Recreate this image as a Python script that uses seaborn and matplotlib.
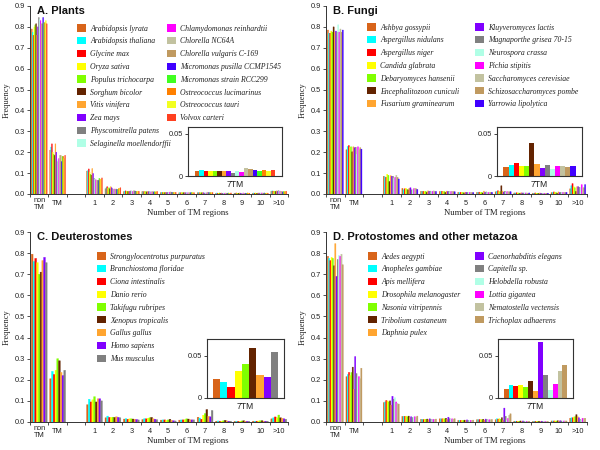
import numpy as np
import pandas as pd
import matplotlib
matplotlib.use("Agg")
import matplotlib.pyplot as plt
from matplotlib.patches import Patch
import seaborn as sns

sns.set_style("ticks")
plt.rcParams['font.family'] = ['Liberation Sans', 'DejaVu Sans']

# ---------------- data ----------------
CATEGORIES = ["non\nTM", "TM", " ", "1", "2", "3", "4", "5", "6", "7", "8", "9", "10", ">10"]
INSET_LABEL = "7TM"

PALETTE = ["#D8641A", "#00FFFF", "#FF0000", "#FFFF00", "#80FF00", "#632300",
           "#FFA530", "#8000FF", "#808080", "#B0FFE6", "#FF00FF", "#C2C2A0",
           "#C09A60", "#4000FF", "#40FF20", "#FF8000", "#F2FF20", "#FF4020"]

# A. Plants
PLANTS_SPECIES = ["Arabidopsis lyrata", "Arabidopsis thaliana", "Glycine max", "Oryza sativa",
                  "Populus trichocarpa", "Sorghum bicolor", "Vitis vinifera", "Zea mays",
                  "Physcomitrella patens", "Selaginella moellendorffii", "Chlamydomonas reinhardtii",
                  "Chlorella NC64A", "Chlorella vulgaris C-169", "Micromonas pusilla CCMP1545",
                  "Micromonas strain RCC299", "Ostreococcus lucimarinus", "Ostreococcus tauri",
                  "Volvox carteri"]
PLANTS_NONTM = [0.790, 0.775, 0.760, 0.800, 0.810, 0.815, 0.760, 0.800, 0.845, 0.835, 0.830, 0.815, 0.815, 0.845, 0.820, 0.820, 0.830, 0.815]
PLANTS_TM = [0.210, 0.225, 0.240, 0.200, 0.190, 0.185, 0.240, 0.200, 0.155, 0.165, 0.170, 0.185, 0.185, 0.155, 0.180, 0.180, 0.170, 0.185]
PLANTS_1 = [0.110, 0.112, 0.120, 0.105, 0.095, 0.090, 0.122, 0.098, 0.075, 0.072, 0.068, 0.066, 0.066, 0.065, 0.075, 0.070, 0.072, 0.077]
PLANTS_2 = [0.025, 0.030, 0.035, 0.028, 0.030, 0.025, 0.035, 0.030, 0.025, 0.022, 0.024, 0.022, 0.024, 0.022, 0.022, 0.026, 0.028, 0.030]
PLANTS_3 = [0.012, 0.014, 0.015, 0.012, 0.013, 0.012, 0.014, 0.013, 0.015, 0.014, 0.012, 0.016, 0.015, 0.014, 0.012, 0.013, 0.014, 0.013]
PLANTS_4 = [0.012, 0.011, 0.012, 0.011, 0.012, 0.010, 0.012, 0.011, 0.012, 0.013, 0.010, 0.012, 0.011, 0.010, 0.011, 0.010, 0.011, 0.012]
PLANTS_5 = [0.007, 0.008, 0.007, 0.008, 0.007, 0.007, 0.008, 0.007, 0.008, 0.008, 0.009, 0.010, 0.009, 0.008, 0.007, 0.008, 0.007, 0.008]
PLANTS_6 = [0.006, 0.007, 0.006, 0.007, 0.006, 0.006, 0.007, 0.006, 0.006, 0.007, 0.006, 0.007, 0.006, 0.006, 0.007, 0.006, 0.007, 0.006]
PLANTS_7 = [0.006, 0.007, 0.006, 0.006, 0.006, 0.006, 0.006, 0.006, 0.004, 0.006, 0.005, 0.009, 0.008, 0.007, 0.006, 0.007, 0.006, 0.007]
PLANTS_8 = [0.004, 0.005, 0.004, 0.004, 0.005, 0.004, 0.005, 0.004, 0.004, 0.005, 0.004, 0.005, 0.004, 0.004, 0.005, 0.004, 0.004, 0.005]
PLANTS_9 = [0.004, 0.004, 0.005, 0.004, 0.004, 0.004, 0.005, 0.004, 0.004, 0.004, 0.005, 0.004, 0.004, 0.004, 0.004, 0.005, 0.004, 0.004]
PLANTS_10 = [0.004, 0.005, 0.004, 0.005, 0.004, 0.004, 0.005, 0.004, 0.005, 0.004, 0.005, 0.005, 0.004, 0.005, 0.004, 0.004, 0.005, 0.004]
PLANTS_GT10 = [0.013, 0.015, 0.014, 0.012, 0.014, 0.012, 0.015, 0.013, 0.016, 0.015, 0.014, 0.013, 0.012, 0.010, 0.012, 0.011, 0.012, 0.013]

# B. Fungi
FUNGI_SPECIES = ["Ashbya gossypii", "Aspergillus nidulans", "Aspergillus niger", "Candida glabrata",
                 "Debaryomyces hansenii", "Encephalitozoon cuniculi", "Fusarium graminearum",
                 "Kluyveromyces lactis", "Magnaporthe grisea 70-15", "Neurospora crassa",
                 "Pichia stipitis", "Saccharomyces cerevisiae", "Schizosaccharomyces pombe",
                 "Yarrowia lipolytica"]
FUNGI_NONTM = [0.785, 0.770, 0.770, 0.780, 0.775, 0.800, 0.775, 0.780, 0.775, 0.810, 0.775, 0.790, 0.775, 0.785]
FUNGI_TM = [0.212, 0.228, 0.232, 0.224, 0.226, 0.202, 0.226, 0.222, 0.224, 0.190, 0.226, 0.212, 0.222, 0.215]
FUNGI_1 = [0.085, 0.082, 0.080, 0.095, 0.090, 0.060, 0.088, 0.085, 0.085, 0.075, 0.080, 0.090, 0.080, 0.072]
FUNGI_2 = [0.027, 0.020, 0.025, 0.028, 0.022, 0.020, 0.027, 0.030, 0.020, 0.020, 0.026, 0.028, 0.025, 0.022]
FUNGI_3 = [0.013, 0.012, 0.013, 0.012, 0.013, 0.008, 0.015, 0.013, 0.014, 0.012, 0.013, 0.015, 0.012, 0.012]
FUNGI_4 = [0.012, 0.012, 0.013, 0.012, 0.012, 0.008, 0.014, 0.012, 0.013, 0.011, 0.012, 0.013, 0.012, 0.011]
FUNGI_5 = [0.008, 0.007, 0.008, 0.007, 0.008, 0.005, 0.009, 0.008, 0.008, 0.007, 0.008, 0.008, 0.007, 0.007]
FUNGI_6 = [0.008, 0.008, 0.009, 0.007, 0.008, 0.005, 0.014, 0.008, 0.010, 0.008, 0.008, 0.009, 0.008, 0.008]
FUNGI_7 = [0.0105, 0.013, 0.0155, 0.0115, 0.0115, 0.0395, 0.014, 0.0093, 0.0135, 0.0078, 0.0115, 0.0115, 0.0105, 0.0115]
FUNGI_8 = [0.005, 0.005, 0.006, 0.005, 0.005, 0.003, 0.006, 0.005, 0.005, 0.005, 0.005, 0.005, 0.004, 0.005]
FUNGI_9 = [0.004, 0.004, 0.005, 0.004, 0.004, 0.002, 0.005, 0.004, 0.004, 0.004, 0.004, 0.004, 0.004, 0.004]
FUNGI_10 = [0.007, 0.008, 0.010, 0.008, 0.007, 0.004, 0.010, 0.007, 0.008, 0.007, 0.008, 0.008, 0.007, 0.008]
FUNGI_GT10 = [0.025, 0.040, 0.050, 0.035, 0.030, 0.012, 0.035, 0.035, 0.032, 0.030, 0.045, 0.030, 0.030, 0.045]

# C. Deuterostomes
DEUT_SPECIES = ["Strongylocentrotus purpuratus", "Branchiostoma floridae", "Ciona intestinalis",
                "Danio rerio", "Takifugu rubripes", "Xenopus tropicalis", "Gallus gallus",
                "Homo sapiens", "Mus musculus"]
DEUT_NONTM = [0.795, 0.760, 0.775, 0.755, 0.700, 0.710, 0.765, 0.780, 0.755]
DEUT_TM = [0.205, 0.240, 0.225, 0.245, 0.300, 0.290, 0.235, 0.220, 0.245]
DEUT_1 = [0.082, 0.108, 0.095, 0.105, 0.120, 0.095, 0.110, 0.110, 0.100]
DEUT_2 = [0.020, 0.028, 0.022, 0.022, 0.023, 0.022, 0.025, 0.022, 0.020]
DEUT_3 = [0.014, 0.016, 0.013, 0.015, 0.015, 0.014, 0.013, 0.012, 0.010]
DEUT_4 = [0.012, 0.016, 0.015, 0.018, 0.020, 0.022, 0.015, 0.013, 0.011]
DEUT_5 = [0.009, 0.010, 0.010, 0.008, 0.010, 0.013, 0.008, 0.006, 0.005]
DEUT_6 = [0.009, 0.010, 0.010, 0.011, 0.015, 0.014, 0.011, 0.010, 0.010]
DEUT_7 = [0.0227, 0.0188, 0.0133, 0.0324, 0.0400, 0.0590, 0.0273, 0.0246, 0.0547]
DEUT_8 = [0.004, 0.005, 0.004, 0.004, 0.006, 0.008, 0.005, 0.004, 0.004]
DEUT_9 = [0.003, 0.004, 0.003, 0.004, 0.005, 0.006, 0.004, 0.003, 0.003]
DEUT_10 = [0.004, 0.004, 0.004, 0.005, 0.006, 0.006, 0.004, 0.004, 0.004]
DEUT_GT10 = [0.015, 0.020, 0.024, 0.020, 0.033, 0.020, 0.018, 0.015, 0.013]

# D. Protostomes and other metazoa
PROTO_SPECIES = ["Aedes aegypti", "Anopheles gambiae", "Apis mellifera", "Drosophila melanogaster",
                 "Nasonia vitripennis", "Tribolium castaneum", "Daphnia pulex",
                 "Caenorhabditis elegans", "Capitella sp.", "Helobdella robusta",
                 "Lottia gigantea", "Nematostella vectensis", "Trichoplax adhaerens"]
PROTO_NONTM = [0.785, 0.775, 0.765, 0.780, 0.775, 0.740, 0.845, 0.690, 0.770, 0.790, 0.785, 0.795, 0.745]
PROTO_TM = [0.215, 0.225, 0.235, 0.220, 0.235, 0.260, 0.155, 0.310, 0.230, 0.210, 0.215, 0.205, 0.255]
PROTO_1 = [0.092, 0.095, 0.102, 0.100, 0.095, 0.100, 0.080, 0.122, 0.108, 0.115, 0.095, 0.088, 0.085]
PROTO_2 = [0.027, 0.027, 0.027, 0.028, 0.025, 0.028, 0.020, 0.025, 0.022, 0.024, 0.025, 0.022, 0.028]
PROTO_3 = [0.013, 0.013, 0.012, 0.013, 0.013, 0.014, 0.011, 0.015, 0.013, 0.012, 0.013, 0.012, 0.014]
PROTO_4 = [0.015, 0.015, 0.015, 0.016, 0.015, 0.018, 0.012, 0.023, 0.016, 0.013, 0.015, 0.014, 0.016]
PROTO_5 = [0.008, 0.008, 0.008, 0.008, 0.008, 0.009, 0.006, 0.010, 0.008, 0.007, 0.008, 0.008, 0.009]
PROTO_6 = [0.011, 0.011, 0.012, 0.011, 0.011, 0.013, 0.009, 0.014, 0.012, 0.010, 0.011, 0.011, 0.012]
PROTO_7 = [0.0110, 0.0157, 0.0138, 0.0157, 0.0130, 0.0205, 0.0079, 0.0660, 0.0276, 0.0090, 0.0170, 0.0320, 0.0390]
PROTO_8 = [0.004, 0.004, 0.004, 0.004, 0.004, 0.005, 0.003, 0.005, 0.004, 0.003, 0.004, 0.004, 0.004]
PROTO_9 = [0.003, 0.003, 0.003, 0.003, 0.003, 0.004, 0.002, 0.004, 0.003, 0.003, 0.003, 0.003, 0.003]
PROTO_10 = [0.005, 0.005, 0.005, 0.005, 0.005, 0.006, 0.004, 0.006, 0.005, 0.004, 0.005, 0.005, 0.005]
PROTO_GT10 = [0.018, 0.020, 0.020, 0.024, 0.025, 0.035, 0.025, 0.020, 0.012, 0.010, 0.018, 0.016, 0.018]

PANELS = [
    dict(title="A. Plants", species=PLANTS_SPECIES,
         values=[PLANTS_NONTM, PLANTS_TM, PLANTS_1, PLANTS_2, PLANTS_3, PLANTS_4, PLANTS_5,
                 PLANTS_6, PLANTS_7, PLANTS_8, PLANTS_9, PLANTS_10, PLANTS_GT10],
         ax_px=(30, 6, 288, 194), inset_px=(188, 127, 282, 176), inset_top=0.058,
         leg_cols=[(10, 77), (8, 167)], leg_y=29),
    dict(title="B. Fungi", species=FUNGI_SPECIES,
         values=[FUNGI_NONTM, FUNGI_TM, FUNGI_1, FUNGI_2, FUNGI_3, FUNGI_4, FUNGI_5,
                 FUNGI_6, FUNGI_7, FUNGI_8, FUNGI_9, FUNGI_10, FUNGI_GT10],
         ax_px=(326, 6, 587, 194), inset_px=(497, 127, 582, 176), inset_top=0.058,
         leg_cols=[(7, 367), (7, 475)], leg_y=28),
    dict(title="C. Deuterostomes", species=DEUT_SPECIES,
         values=[DEUT_NONTM, DEUT_TM, DEUT_1, DEUT_2, DEUT_3, DEUT_4, DEUT_5,
                 DEUT_6, DEUT_7, DEUT_8, DEUT_9, DEUT_10, DEUT_GT10],
         ax_px=(30, 232, 288, 422), inset_px=(207, 339, 284, 398), inset_top=0.070,
         leg_cols=[(9, 97)], leg_y=257),
    dict(title="D. Protostomes and other metazoa", species=PROTO_SPECIES,
         values=[PROTO_NONTM, PROTO_TM, PROTO_1, PROTO_2, PROTO_3, PROTO_4, PROTO_5,
                 PROTO_6, PROTO_7, PROTO_8, PROTO_9, PROTO_10, PROTO_GT10],
         ax_px=(326, 232, 587, 422), inset_px=(498, 339, 573, 398), inset_top=0.070,
         leg_cols=[(7, 368), (6, 475)], leg_y=257),
]

DATA_CATS = [c for c in CATEGORIES if c.strip()]

W, H = 600, 450
fig = plt.figure(figsize=(6, 4.5), dpi=100)

def frac_rect(x0, y0, x1, y1):
    return [x0 / W, 1 - y1 / H, (x1 - x0) / W, (y1 - y0) / H]

AXC = "#333333"
TICKFS = 5.3
LEGFS = 5.6

def solidify(ax, lw):
    for b in ax.patches:
        b.set_edgecolor(b.get_facecolor())
        b.set_linewidth(lw)
        b.set_snap(False)

for p in PANELS:
    species = p["species"]
    n = len(species)
    pal = PALETTE[:n]
    rows = []
    for cat, arr in zip(DATA_CATS, p["values"]):
        for sp, v in zip(species, arr):
            rows.append((cat, sp, v))
    df = pd.DataFrame(rows, columns=["cat", "species", "freq"])

    ax = fig.add_axes(frac_rect(*p["ax_px"]))
    sns.barplot(data=df, x="cat", y="freq", hue="species", order=CATEGORIES,
                hue_order=species, palette=pal, width=0.86, saturation=1,
                errorbar=None, legend=False, ax=ax)
    solidify(ax, 0.25)
    ax.set_xlim(-0.5, len(CATEGORIES) - 0.5)
    ax.set_ylim(0, 0.9)
    ax.set_yticks(np.arange(0, 0.91, 0.1))
    ax.set_yticklabels([f"{t:.1f}" for t in np.arange(0, 0.91, 0.1)])
    ax.set_xticks(np.arange(-0.5, len(CATEGORIES), 1), minor=True)
    ax.tick_params(axis="x", which="major", length=0, pad=7, labelsize=TICKFS, colors="#222222")
    ax.tick_params(axis="x", which="minor", length=2.2, width=0.6, color=AXC, direction="out")
    ax.tick_params(axis="y", length=2.2, width=0.6, color=AXC, labelsize=TICKFS,
                   labelcolor="#222222", pad=1.5)
    for lab in ax.get_xticklabels():
        lab.set_va("center")
        lab.set_linespacing(0.95)
    for s in ["top", "right"]:
        ax.spines[s].set_visible(False)
    for s in ["left", "bottom"]:
        ax.spines[s].set_color(AXC)
        ax.spines[s].set_linewidth(0.7)
    ax.set_xlabel("Number of TM regions", family="Liberation Serif", fontsize=6.3, color="#222222")
    ax.xaxis.set_label_coords(0.61, -0.08)
    ax.set_ylabel("Frequency", family="Liberation Serif", fontsize=6.0, color="#222222", labelpad=3)
    ax.text(0.028, 0.975, p["title"], transform=ax.transAxes, fontsize=8,
            weight="bold", va="center", ha="left", color="#111111")

    # legends
    handles = [Patch(facecolor=c, edgecolor="none") for c in pal]
    start = 0
    for count, xpx in p["leg_cols"]:
        lg = fig.legend(handles[start:start + count], species[start:start + count],
                        loc="upper left", bbox_to_anchor=(xpx / W, 1 - (p["leg_y"] - 4.6) / H),
                        frameon=False, borderpad=0, borderaxespad=0,
                        handlelength=1.15, handleheight=1.05, handletextpad=0.55,
                        labelspacing=0.58,
                        prop=dict(family="Liberation Serif", style="italic", size=LEGFS))
        for t in lg.get_texts():
            t.set_color("#222222")
        start += count

    # inset 7TM
    iax = fig.add_axes(frac_rect(*p["inset_px"]))
    d7 = df[df["cat"] == "7"].copy()
    d7["cat"] = INSET_LABEL
    sns.barplot(data=d7, x="cat", y="freq", hue="species", hue_order=species,
                palette=pal, width=0.85, saturation=1, errorbar=None, legend=False,
                linewidth=0, ax=iax)
    iax.set_xlim(-0.5, 0.5)
    iax.set_ylim(0, p["inset_top"])
    iax.set_yticks([0, 0.05])
    iax.set_yticklabels(["0", "0.05"])
    iax.set_xticks([0])
    iax.set_xticklabels([INSET_LABEL], fontfamily="Liberation Sans", fontstyle="normal",
                        fontsize=6.2, color="#222222")
    iax.set_xlabel("")
    iax.set_ylabel("")
    iax.tick_params(axis="x", length=0, pad=3)
    iax.tick_params(axis="y", length=2.5, width=0.6, labelsize=5.3, pad=1, colors="#222222")
    for s in iax.spines.values():
        s.set_visible(True)
        s.set_color(AXC)
        s.set_linewidth(0.8)

fig.savefig("out.png", dpi=100)
